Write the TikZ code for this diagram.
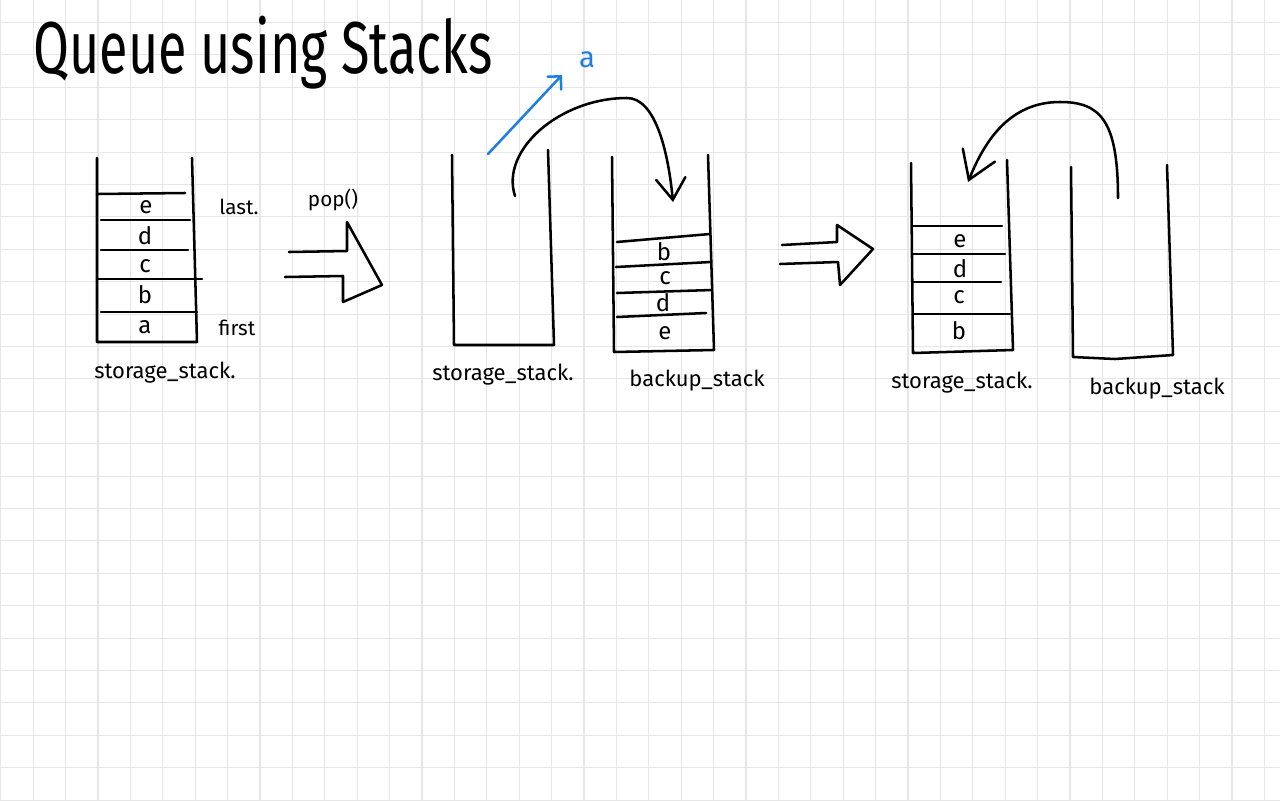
\documentclass[tikz,border=0pt]{standalone}
\usepackage{fontspec}
\setmainfont{Fira Sans}
\usetikzlibrary{arrows.meta}
\definecolor{gridc}{HTML}{E6E6E6}
\definecolor{penblue}{HTML}{1E7FE0}
\begin{document}
\begin{tikzpicture}[x=0.75pt,y=-0.75pt,
  gridline/.style={draw=gridc, line width=0.8pt},
  ink/.style={line width=1.9pt, line cap=round, line join=round, draw=black},
  blueink/.style={line width=1.9pt, line cap=round, line join=round, draw=penblue},
  cell/.style={inner sep=0pt, font=\fontsize{18}{18}\selectfont},
  lbl/.style={inner sep=0pt, font=\fontsize{16.5}{16.5}\selectfont},
  note/.style={inner sep=0pt, font=\fontsize{15.5}{15.5}\selectfont},
  bigbarb/.style={-{Straight Barb[length=16pt,width=22pt,line cap=round]}}
]
\useasboundingbox (0,0) rectangle (1280,800);
\fill[white] (0,0) rectangle (1280,800);
% grid paper
\foreach \i in {0,...,39} \draw[gridline] ({0.8+32.4*\i},0) -- ++(0,800);
\foreach \j in {0,...,24} \draw[gridline] (0,{22.5+32.4*\j}) -- ++(1280,0);

% title
\node[inner sep=0pt, anchor=west] (title) at (33,53)
  {\scalebox{0.85}[1.2]{\fontsize{46}{46}\selectfont Queue using Stacks}};

% ---------- stack 1 : storage_stack (full) ----------
\draw[ink] (97,158) -- (97,342) -- (197,342) -- (192,158);
\draw[ink] (97,194) -- (185,193);
\draw[ink] (101,220) -- (190,220);
\draw[ink] (101,250) -- (188,250);
\draw[ink] (97,279) -- (202,279);
\draw[ink] (101,312) -- (197,312);
\node[cell] (s1e) at (146,207) {e};
\node[cell] (s1d) at (145,236) {d};
\node[cell] (s1c) at (145,266) {c};
\node[cell] (s1b) at (145,295) {b};
\node[cell] (s1a) at (145,327) {a};
\node[note] (last) at (239,207) {last.};
\node[note] (first) at (237,328) {first};
\node[lbl] (lab1) at (165,373) {storage\_stack.};
\node[note] (pop) at (333,200) {pop()};

% hollow arrow 1
\draw[ink] (289,252) -- (347,251) -- (347,222) -- (382,285) -- (343,302) -- (343,276) -- (285,277);

% ---------- stack 2 : storage_stack (empty) ----------
\draw[ink] (452,155) -- (454,345) -- (554,345) -- (548,150);
\node[lbl] (lab2) at (503,375) {storage\_stack.};

% popped element a
\coordinate (popfrom) at (488,154);
\coordinate (popto) at (562,75);
\draw[blueink, -{Straight Barb[length=7pt,width=14pt,line cap=round]}] (popfrom) -- (popto);
\node[inner sep=0pt, text=penblue, font=\fontsize{22}{22}\selectfont] (apop) at (587,60) {a};

% ---------- stack 3 : backup_stack (b c d e) ----------
\draw[ink] (612,157) -- (614,352) -- (714,350) -- (708,155);
\draw[ink] (617,242) -- (710,234);
\draw[ink] (616,267) -- (711,262);
\draw[ink] (617,293) -- (712,290);
\draw[ink] (617,317) -- (706,313);
\node[cell] (s3b) at (664,252) {b};
\node[cell] (s3c) at (665,278) {c};
\node[cell] (s3d) at (663,303) {d};
\node[cell] (s3e) at (665,333) {e};
\node[lbl] (lab3) at (697,381) {backup\_stack};

% transfer arrow 1
\coordinate (t1from) at (515,196);
\coordinate (t1to) at (673,202);
\draw[ink, bigbarb] (t1from) .. controls (500,150) and (560,98) .. (627,98)
  .. controls (655,98) and (668,150) .. (t1to);

% hollow arrow 2
\draw[ink] (782,245) -- (837,242) -- (837,225) -- (873,249) -- (840,285) -- (838,262) -- (780,264);

% ---------- stack 4 : storage_stack (e d c b) ----------
\draw[ink] (911,163) -- (913,353) -- (1013,350) -- (1007,160);
\draw[ink] (913,226) -- (1002,226);
\draw[ink] (913,254) -- (1005,254);
\draw[ink] (913,282) -- (1001,282);
\draw[ink] (913,314) -- (1010,314);
\node[cell] (s4e) at (960,241) {e};
\node[cell] (s4d) at (960,269) {d};
\node[cell] (s4c) at (959,297) {c};
\node[cell] (s4b) at (959,331) {b};
\node[lbl] (lab4) at (962,383) {storage\_stack.};

% ---------- stack 5 : backup_stack (empty) ----------
\draw[ink] (1071,167) -- (1073,357) -- (1115,359) -- (1173,355) -- (1167,165);
\node[lbl] (lab5) at (1157,389) {backup\_stack};

% transfer arrow 2
\coordinate (t2from) at (1118,198);
\coordinate (t2to) at (968,182);
\draw[ink, -{Straight Barb[length=20pt,width=26pt,line cap=round]}] (t2from) .. controls (1118,120) and (1100,102) .. (1060,102)
  .. controls (1010,102) and (985,140) .. (t2to);
\end{tikzpicture}
\end{document}
